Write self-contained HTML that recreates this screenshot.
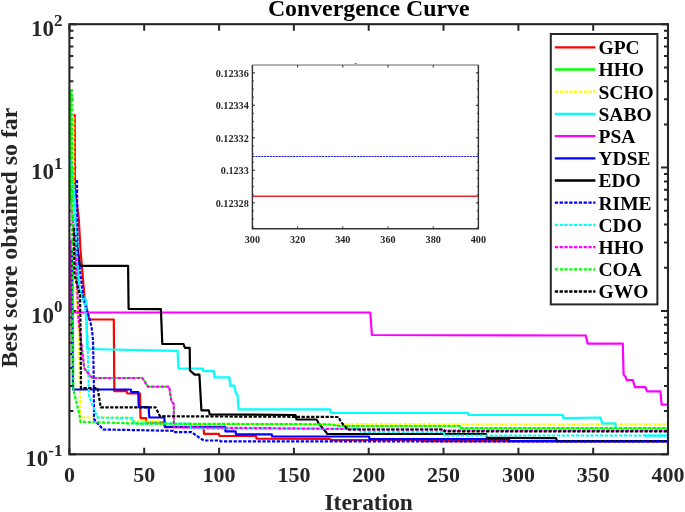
<!DOCTYPE html>
<html><head><meta charset="utf-8"><style>html,body{margin:0;padding:0;background:#fff;width:685px;height:512px;overflow:hidden}svg{display:block;will-change:transform}</style></head>
<body>
<svg width="685" height="512" viewBox="0 0 685 512">
<rect x="0" y="0" width="685" height="512" fill="#fff"/>
<path d="M69.4,454.3V447.8M69.4,24.2V30.7M144.2,454.3V447.8M144.2,24.2V30.7M219.1,454.3V447.8M219.1,24.2V30.7M293.9,454.3V447.8M293.9,24.2V30.7M368.7,454.3V447.8M368.7,24.2V30.7M443.5,454.3V447.8M443.5,24.2V30.7M518.4,454.3V447.8M518.4,24.2V30.7M593.2,454.3V447.8M593.2,24.2V30.7M668.0,454.3V447.8M668.0,24.2V30.7M69.4,454.3H76.4M668.0,454.3H661.0M69.4,411.1H73.4M668.0,411.1H664.0M69.4,385.9H73.4M668.0,385.9H664.0M69.4,368.0H73.4M668.0,368.0H664.0M69.4,354.1H73.4M668.0,354.1H664.0M69.4,342.7H73.4M668.0,342.7H664.0M69.4,333.1H73.4M668.0,333.1H664.0M69.4,324.8H73.4M668.0,324.8H664.0M69.4,317.5H73.4M668.0,317.5H664.0M69.4,310.9H76.4M668.0,310.9H661.0M69.4,267.8H73.4M668.0,267.8H664.0M69.4,242.5H73.4M668.0,242.5H664.0M69.4,224.6H73.4M668.0,224.6H664.0M69.4,210.7H73.4M668.0,210.7H664.0M69.4,199.4H73.4M668.0,199.4H664.0M69.4,189.8H73.4M668.0,189.8H664.0M69.4,181.5H73.4M668.0,181.5H664.0M69.4,174.1H73.4M668.0,174.1H664.0M69.4,167.6H76.4M668.0,167.6H661.0M69.4,124.4H73.4M668.0,124.4H664.0M69.4,99.2H73.4M668.0,99.2H664.0M69.4,81.3H73.4M668.0,81.3H664.0M69.4,67.4H73.4M668.0,67.4H664.0M69.4,56.0H73.4M668.0,56.0H664.0M69.4,46.4H73.4M668.0,46.4H664.0M69.4,38.1H73.4M668.0,38.1H664.0M69.4,30.8H73.4M668.0,30.8H664.0M69.4,24.2H76.4M668.0,24.2H661.0" stroke="#262626" stroke-width="2" fill="none"/>
<defs><clipPath id="c"><rect x="69.4" y="24.2" width="598.6" height="430.1"/></clipPath></defs>
<g clip-path="url(#c)">
<polyline points="74.7,114.0 74.9,186.0 78.8,219.0 80.5,250.0 84.5,297.0 89.0,319.5 113.8,319.5 114.3,391.2 126.7,391.2 127.3,393.5 140.0,393.5 140.5,418.1 146.1,418.1 146.8,422.6 164.0,422.6 165.0,427.2 203.6,427.2 204.0,433.9 218.9,433.9 219.5,436.0 256.0,436.0 256.5,438.6 330.0,438.9 331.0,440.0 420.0,440.0 421.0,441.1 668.0,441.1" fill="none" stroke="#ff0000" stroke-width="2.2" stroke-linejoin="round"/>
<polyline points="70.8,89.0 70.8,200.0 72.0,210.0 76.0,260.0 78.5,320.0 84.3,368.4 92.1,378.0 142.4,378.0 147.9,386.7 169.1,386.7 171.4,400.8 173.8,404.3 173.8,424.2" fill="none" stroke="#00ff00" stroke-width="1.6" stroke-linejoin="round"/>
<polyline points="173.8,424.2 300.0,424.2 330.0,424.5 340.0,426.0 460.0,426.0 461.0,428.2 668.0,428.2" fill="none" stroke="#00ff00" stroke-width="1.0" stroke-linejoin="round"/>
<polyline points="73.4,117.0 73.7,250.0 78.8,330.0 80.4,417.5 130.0,417.5 131.0,421.2 158.0,421.2 159.0,424.0 400.0,424.0 460.0,424.4 668.0,424.4" fill="none" stroke="#ffff00" stroke-width="2.2" stroke-dasharray="3.3 1.5" stroke-linejoin="round"/>
<polyline points="71.0,160.0 74.0,195.0 77.0,230.0 78.0,270.0 79.5,290.0 86.0,300.0 87.4,349.0 177.5,350.9 178.5,368.5 202.8,368.5 203.5,371.2 213.8,371.2 214.5,377.4 229.5,377.4 230.2,385.6 234.3,385.6 236.0,393.7 237.5,395.0 238.5,409.4 330.1,409.4 330.8,412.8 467.7,412.8 468.5,415.0 562.8,415.0 563.5,418.2 600.5,417.5 602.2,423.4 615.3,423.4 615.8,427.7" fill="none" stroke="#00ffff" stroke-width="2.2" stroke-linejoin="round"/>
<polyline points="643.0,435.6 668.0,435.6" fill="none" stroke="#00ffff" stroke-width="2.2" stroke-linejoin="round"/>
<polyline points="70.6,240.0 70.8,311.5 71.5,312.5 370.3,312.5 371.9,335.0 585.8,335.5 587.6,343.6 622.8,343.7 623.6,374.7 625.2,376.3 627.0,380.2 633.0,380.2 634.8,387.2 645.5,387.2 647.0,391.4 660.4,391.4 661.6,404.7 668.0,404.7" fill="none" stroke="#ff00ff" stroke-width="2.2" stroke-linejoin="round"/>
<polyline points="72.0,250.0 73.0,389.5 130.8,389.5 131.4,392.2 138.3,392.2 138.8,407.2 148.6,407.2 149.3,417.5 164.3,417.5 165.0,426.9 225.0,426.9 225.5,431.3 235.5,431.3 236.0,434.3 271.7,434.3 272.2,436.5 369.0,436.5 369.5,438.8 509.0,439.0 509.5,441.2 668.0,441.2" fill="none" stroke="#0000ff" stroke-width="2.2" stroke-linejoin="round"/>
<polyline points="74.5,232.0 78.0,252.0 80.0,265.9 128.1,265.9 128.6,308.8 160.9,309.2 162.3,344.0 183.5,344.0 184.9,347.9 189.7,347.9 190.0,370.5 194.6,374.6 199.4,374.6 201.4,410.3 208.8,410.3 209.7,414.3 295.5,415.0 296.5,419.5 316.6,419.5 319.0,424.0 326.0,432.0 327.2,434.0 486.0,434.0 487.0,437.8 556.0,438.2 557.0,441.2 668.0,441.2" fill="none" stroke="#000000" stroke-width="2.2" stroke-linejoin="round"/>
<polyline points="77.0,180.0 77.5,250.0 83.6,300.0 90.0,320.0 92.0,330.0 93.0,340.0 93.8,382.0 94.0,419.0 103.0,429.5 173.3,430.8 174.0,432.1 191.7,432.1 200.0,438.3 204.0,440.5 219.8,440.5 220.5,441.3 668.0,441.3" fill="none" stroke="#0000ff" stroke-width="2.2" stroke-dasharray="3.3 1.5" stroke-linejoin="round"/>
<polyline points="72.0,165.0 74.0,200.0 77.0,260.0 78.5,290.0 85.0,305.0 87.5,340.0 89.0,395.6 97.6,417.7 132.8,417.9 133.5,423.4 190.0,423.6 191.0,428.5 360.0,428.8 360.5,431.8 444.0,432.0 444.5,435.5 668.0,435.5" fill="none" stroke="#00ffff" stroke-width="2.2" stroke-dasharray="3.3 1.5" stroke-linejoin="round"/>
<polyline points="72.0,210.0 76.0,260.0 78.5,320.0 84.3,368.4 92.1,378.0 142.4,378.0 147.9,386.7 169.1,386.7 171.4,400.8 173.8,404.3 173.8,427.2 347.0,429.0 348.0,429.5" fill="none" stroke="#ff00ff" stroke-width="2.2" stroke-dasharray="3.3 1.5" stroke-linejoin="round"/>
<polyline points="348.0,429.5 443.7,429.5 444.5,430.5 668.0,430.5" fill="none" stroke="#ff00ff" stroke-width="2.2" stroke-dasharray="3.3 1.5" stroke-linejoin="round"/>
<polyline points="71.8,89.0 72.2,250.0 73.4,389.4 79.6,416.0 80.4,421.8 140.0,423.6 300.0,424.2 330.0,424.5 340.0,426.0 460.0,426.0 461.0,428.2 668.0,428.2" fill="none" stroke="#00ff00" stroke-width="2.2" stroke-dasharray="3.3 1.5" stroke-linejoin="round"/>
<polyline points="73.8,228.0 74.5,275.0 80.0,295.0 80.5,325.0 81.0,388.0 97.6,388.0 100.7,407.3 155.5,407.3 160.0,416.2 338.5,417.0 341.0,422.0 348.0,429.5" fill="none" stroke="#000000" stroke-width="2.2" stroke-dasharray="3.3 1.5" stroke-linejoin="round"/>
<polyline points="348.0,429.5 443.7,429.5 444.5,431.4 668.0,431.4" fill="none" stroke="#000000" stroke-width="2.2" stroke-dasharray="3.3 1.5" stroke-linejoin="round"/>
</g>
<rect x="69.4" y="24.2" width="598.6" height="430.1" fill="none" stroke="#262626" stroke-width="2.1"/>
<text x="69.4" y="482.3" font-family="Liberation Serif" font-weight="bold" font-size="22" text-anchor="middle" fill="#262626">0</text>
<text x="144.2" y="482.3" font-family="Liberation Serif" font-weight="bold" font-size="22" text-anchor="middle" fill="#262626">50</text>
<text x="219.1" y="482.3" font-family="Liberation Serif" font-weight="bold" font-size="22" text-anchor="middle" fill="#262626">100</text>
<text x="293.9" y="482.3" font-family="Liberation Serif" font-weight="bold" font-size="22" text-anchor="middle" fill="#262626">150</text>
<text x="368.7" y="482.3" font-family="Liberation Serif" font-weight="bold" font-size="22" text-anchor="middle" fill="#262626">200</text>
<text x="443.5" y="482.3" font-family="Liberation Serif" font-weight="bold" font-size="22" text-anchor="middle" fill="#262626">250</text>
<text x="518.4" y="482.3" font-family="Liberation Serif" font-weight="bold" font-size="22" text-anchor="middle" fill="#262626">300</text>
<text x="593.2" y="482.3" font-family="Liberation Serif" font-weight="bold" font-size="22" text-anchor="middle" fill="#262626">350</text>
<text x="668.0" y="482.3" font-family="Liberation Serif" font-weight="bold" font-size="22" text-anchor="middle" fill="#262626">400</text>
<text x="62.4" y="466.1" font-family="Liberation Serif" font-weight="bold" font-size="23" text-anchor="end" fill="#262626">10<tspan font-size="17" dy="-10.5">-1</tspan></text>
<text x="62.4" y="322.7" font-family="Liberation Serif" font-weight="bold" font-size="23" text-anchor="end" fill="#262626">10<tspan font-size="17" dy="-10.5">0</tspan></text>
<text x="62.4" y="179.4" font-family="Liberation Serif" font-weight="bold" font-size="23" text-anchor="end" fill="#262626">10<tspan font-size="17" dy="-10.5">1</tspan></text>
<text x="62.4" y="36.0" font-family="Liberation Serif" font-weight="bold" font-size="23" text-anchor="end" fill="#262626">10<tspan font-size="17" dy="-10.5">2</tspan></text>
<text x="368.7" y="510" font-family="Liberation Serif" font-weight="bold" font-size="23.4" text-anchor="middle" fill="#262626">Iteration</text>
<text transform="translate(16.9,237.7) rotate(-90)" font-family="Liberation Serif" font-weight="bold" font-size="23.8" text-anchor="middle" fill="#262626">Best score obtained so far</text>
<text x="368.7" y="16" font-family="Liberation Serif" font-weight="bold" font-size="23.8" text-anchor="middle" fill="#000">Convergence Curve</text>
<rect x="550.8" y="34" width="106.60000000000002" height="270.4" fill="#fff" stroke="#262626" stroke-width="2"/>
<line x1="554.8" y1="47.3" x2="595.4" y2="47.3" stroke="#ff0000" stroke-width="2.3"/>
<text x="598.5" y="54.1" font-family="Liberation Serif" font-weight="bold" font-size="19.5" fill="#000">GPC</text>
<line x1="554.8" y1="69.5" x2="595.4" y2="69.5" stroke="#00ff00" stroke-width="2.3"/>
<text x="598.5" y="76.3" font-family="Liberation Serif" font-weight="bold" font-size="19.5" fill="#000">HHO</text>
<line x1="554.8" y1="91.7" x2="595.4" y2="91.7" stroke="#ffff00" stroke-width="2.3" stroke-dasharray="3.3 1.5"/>
<text x="598.5" y="98.5" font-family="Liberation Serif" font-weight="bold" font-size="19.5" fill="#000">SCHO</text>
<line x1="554.8" y1="113.9" x2="595.4" y2="113.9" stroke="#00ffff" stroke-width="2.3"/>
<text x="598.5" y="120.7" font-family="Liberation Serif" font-weight="bold" font-size="19.5" fill="#000">SABO</text>
<line x1="554.8" y1="136.1" x2="595.4" y2="136.1" stroke="#ff00ff" stroke-width="2.3"/>
<text x="598.5" y="142.9" font-family="Liberation Serif" font-weight="bold" font-size="19.5" fill="#000">PSA</text>
<line x1="554.8" y1="158.3" x2="595.4" y2="158.3" stroke="#0000ff" stroke-width="2.3"/>
<text x="598.5" y="165.1" font-family="Liberation Serif" font-weight="bold" font-size="19.5" fill="#000">YDSE</text>
<line x1="554.8" y1="180.5" x2="595.4" y2="180.5" stroke="#000000" stroke-width="2.3"/>
<text x="598.5" y="187.3" font-family="Liberation Serif" font-weight="bold" font-size="19.5" fill="#000">EDO</text>
<line x1="554.8" y1="202.7" x2="595.4" y2="202.7" stroke="#0000ff" stroke-width="2.3" stroke-dasharray="3.3 1.5"/>
<text x="598.5" y="209.5" font-family="Liberation Serif" font-weight="bold" font-size="19.5" fill="#000">RIME</text>
<line x1="554.8" y1="224.9" x2="595.4" y2="224.9" stroke="#00ffff" stroke-width="2.3" stroke-dasharray="3.3 1.5"/>
<text x="598.5" y="231.7" font-family="Liberation Serif" font-weight="bold" font-size="19.5" fill="#000">CDO</text>
<line x1="554.8" y1="247.1" x2="595.4" y2="247.1" stroke="#ff00ff" stroke-width="2.3" stroke-dasharray="3.3 1.5"/>
<text x="598.5" y="253.9" font-family="Liberation Serif" font-weight="bold" font-size="19.5" fill="#000">HHO</text>
<line x1="554.8" y1="269.3" x2="595.4" y2="269.3" stroke="#00ff00" stroke-width="2.3" stroke-dasharray="3.3 1.5"/>
<text x="598.5" y="276.1" font-family="Liberation Serif" font-weight="bold" font-size="19.5" fill="#000">COA</text>
<line x1="554.8" y1="291.5" x2="595.4" y2="291.5" stroke="#000000" stroke-width="2.3" stroke-dasharray="3.3 1.5"/>
<text x="598.5" y="298.3" font-family="Liberation Serif" font-weight="bold" font-size="19.5" fill="#000">GWO</text>
<rect x="252.4" y="65" width="225.99999999999997" height="163.8" fill="#fff"/>
<line x1="252.4" y1="156.5" x2="478.4" y2="156.5" stroke="#2020e0" stroke-width="1.2" stroke-dasharray="2.2 0.7"/>
<line x1="252.4" y1="196.3" x2="478.4" y2="196.3" stroke="#e8242c" stroke-width="1.6"/>
<path d="M252.4,65H478.4" stroke="#999" stroke-width="1.4"/>
<path d="M252.4,65V228.8H478.4V65" stroke="#333" stroke-width="1.4" fill="none"/>
<path d="M252.4,228.8V226.3M252.4,65V67.5M297.6,228.8V226.3M297.6,65V67.5M342.8,228.8V226.3M342.8,65V67.5M388.0,228.8V226.3M388.0,65V67.5M433.2,228.8V226.3M433.2,65V67.5M478.4,228.8V226.3M478.4,65V67.5M252.4,202.8H254.9M478.4,202.8H475.9M252.4,170.3H254.9M478.4,170.3H475.9M252.4,137.8H254.9M478.4,137.8H475.9M252.4,105.3H254.9M478.4,105.3H475.9M252.4,72.8H254.9M478.4,72.8H475.9M252.4,227.2H253.9M478.4,227.2H476.9M252.4,219.0H253.9M478.4,219.0H476.9M252.4,210.9H253.9M478.4,210.9H476.9M252.4,202.8H253.9M478.4,202.8H476.9M252.4,194.7H253.9M478.4,194.7H476.9M252.4,186.6H253.9M478.4,186.6H476.9M252.4,178.4H253.9M478.4,178.4H476.9M252.4,170.3H253.9M478.4,170.3H476.9M252.4,162.2H253.9M478.4,162.2H476.9M252.4,154.0H253.9M478.4,154.0H476.9M252.4,145.9H253.9M478.4,145.9H476.9M252.4,137.8H253.9M478.4,137.8H476.9M252.4,129.7H253.9M478.4,129.7H476.9M252.4,121.6H253.9M478.4,121.6H476.9M252.4,113.4H253.9M478.4,113.4H476.9M252.4,105.3H253.9M478.4,105.3H476.9M252.4,97.2H253.9M478.4,97.2H476.9M252.4,89.0H253.9M478.4,89.0H476.9M252.4,80.9H253.9M478.4,80.9H476.9M252.4,72.8H253.9M478.4,72.8H476.9" stroke="#333" stroke-width="1" fill="none"/>
<text x="252.4" y="242.8" font-family="Liberation Serif" font-weight="bold" font-size="10.2" text-anchor="middle" fill="#262626">300</text>
<text x="297.6" y="242.8" font-family="Liberation Serif" font-weight="bold" font-size="10.2" text-anchor="middle" fill="#262626">320</text>
<text x="342.8" y="242.8" font-family="Liberation Serif" font-weight="bold" font-size="10.2" text-anchor="middle" fill="#262626">340</text>
<text x="388.0" y="242.8" font-family="Liberation Serif" font-weight="bold" font-size="10.2" text-anchor="middle" fill="#262626">360</text>
<text x="433.2" y="242.8" font-family="Liberation Serif" font-weight="bold" font-size="10.2" text-anchor="middle" fill="#262626">380</text>
<text x="478.4" y="242.8" font-family="Liberation Serif" font-weight="bold" font-size="10.2" text-anchor="middle" fill="#262626">400</text>
<text x="248.8" y="206.8" font-family="Liberation Serif" font-weight="bold" font-size="10.2" text-anchor="end" fill="#262626">0.12328</text>
<text x="248.8" y="174.3" font-family="Liberation Serif" font-weight="bold" font-size="10.2" text-anchor="end" fill="#262626">0.1233</text>
<text x="248.8" y="141.8" font-family="Liberation Serif" font-weight="bold" font-size="10.2" text-anchor="end" fill="#262626">0.12332</text>
<text x="248.8" y="109.3" font-family="Liberation Serif" font-weight="bold" font-size="10.2" text-anchor="end" fill="#262626">0.12334</text>
<text x="248.8" y="76.8" font-family="Liberation Serif" font-weight="bold" font-size="10.2" text-anchor="end" fill="#262626">0.12336</text>
<path d="M354.5,63.5H357" stroke="#888" stroke-width="1"/>
</svg>
</body></html>
